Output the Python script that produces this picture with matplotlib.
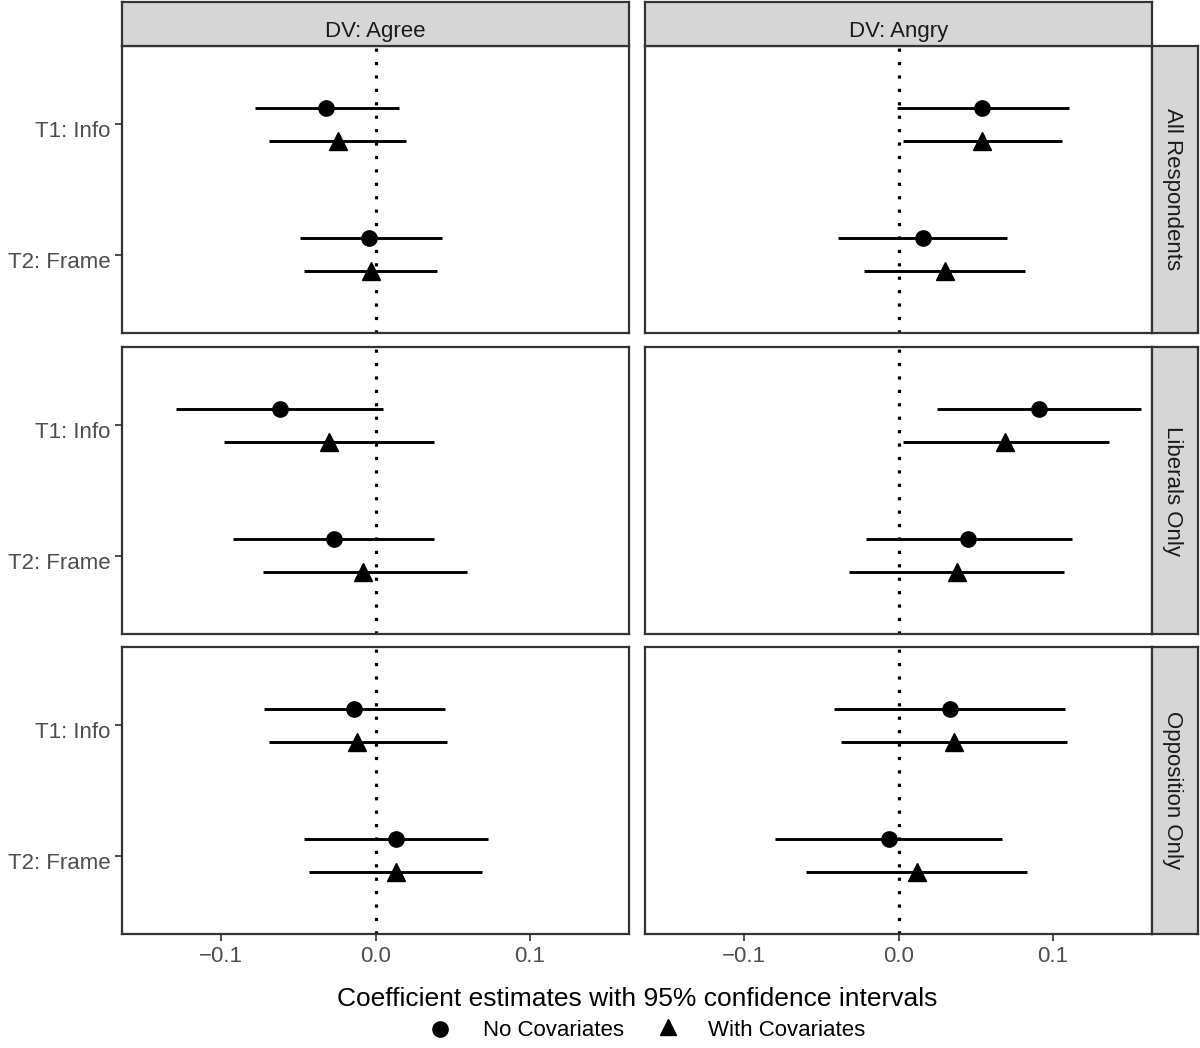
import numpy as np
import matplotlib
matplotlib.use('Agg')
import matplotlib.pyplot as plt
import matplotlib.transforms as mtrans

plt.rcParams['font.family'] = ['Liberation Sans', 'DejaVu Sans']

# DATA
dvs = ["DV: Agree", "DV: Angry"]
groups = ["All Respondents", "Liberals Only", "Opposition Only"]
treatments = ["T1: Info", "T2: Frame"]
models = ["No Covariates", "With Covariates"]

# estimates [group][dv][treatment]
est_nocov = [[[-0.032, -0.004], [0.054, 0.016]],
             [[-0.062, -0.027], [0.091, 0.045]],
             [[-0.014, 0.013], [0.033, -0.006]]]
lo_nocov = [[[-0.078, -0.049], [-0.001, -0.039]],
            [[-0.129, -0.092], [0.025, -0.021]],
            [[-0.072, -0.046], [-0.042, -0.080]]]
hi_nocov = [[[0.015, 0.043], [0.110, 0.070]],
            [[0.005, 0.038], [0.157, 0.112]],
            [[0.045, 0.073], [0.108, 0.067]]]

est_cov = [[[-0.024, -0.003], [0.054, 0.030]],
           [[-0.030, -0.008], [0.069, 0.038]],
           [[-0.012, 0.013], [0.036, 0.012]]]
lo_cov = [[[-0.069, -0.046], [0.003, -0.022]],
          [[-0.098, -0.073], [0.003, -0.032]],
          [[-0.069, -0.043], [-0.037, -0.060]]]
hi_cov = [[[0.020, 0.040], [0.106, 0.082]],
          [[0.038, 0.059], [0.136, 0.107]],
          [[0.046, 0.069], [0.109, 0.083]]]

xticks = [-0.1, 0.0, 0.1]
xticklabels = ["\u22120.1", "0.0", "0.1"]

# FIGURE
W, H = 1200, 1048
fig = plt.figure(figsize=(12, 10.48), dpi=100)

border = '#333333'
tickcol = '#4D4D4D'
stripcol = '#D6D6D6'
fs = 16

panel_x = [122, 645]
panel_w = 507
panel_top = [46, 347, 647]
panel_h = 287

def fbox(x0, y0, w, h):
    # pixel box (top-left origin) -> figure fraction
    return [x0 / W, 1 - (y0 + h) / H, w / W, h / H]

ypos = np.array([1, 2])
dodge = 0.125
shift_down = mtrans.ScaledTranslation(0, -5 / 100, fig.dpi_scale_trans)

for g in range(3):
    for d in range(2):
        ax = fig.add_axes(fbox(panel_x[d], panel_top[g], panel_w, panel_h))
        ax.axvline(0, color='black', linestyle=(0, (1, 3.2)), linewidth=2.3, zorder=1)

        # no covariates (circles)
        ax.hlines(ypos - dodge, lo_nocov[g][d], hi_nocov[g][d], color='black', linewidth=2.1, zorder=2)
        ax.plot(est_nocov[g][d], ypos - dodge, 'o', color='black', markersize=11, zorder=3)
        # with covariates (triangles)
        ax.hlines(ypos + dodge, lo_cov[g][d], hi_cov[g][d], color='black', linewidth=2.1, zorder=2)
        ax.plot(est_cov[g][d], ypos + dodge, '^', color='black', markersize=12.5, zorder=3)

        ax.set_xlim(-0.164, 0.164)
        ax.set_ylim(2.6, 0.4)
        ax.set_xticks(xticks)
        ax.set_yticks(ypos)
        for s in ax.spines.values():
            s.set_color(border)
            s.set_linewidth(1.6)
        ax.tick_params(color=tickcol, length=5, width=1.4, labelcolor=tickcol, labelsize=fs)
        if d == 0:
            ax.set_yticklabels(treatments)
            for lab in ax.get_yticklabels():
                lab.set_transform(lab.get_transform() + shift_down)
        else:
            ax.tick_params(axis='y', left=False, labelleft=False)
        if g == 2:
            ax.set_xticklabels(xticklabels)
        else:
            ax.tick_params(axis='x', bottom=False, labelbottom=False)

        # right strips
        if d == 1:
            sax = fig.add_axes(fbox(1152, panel_top[g], 46, panel_h))
            sax.set_facecolor(stripcol)
            sax.set_xticks([])
            sax.set_yticks([])
            for s in sax.spines.values():
                s.set_color(border)
                s.set_linewidth(1.6)
            sax.text(0.44, 0.5, groups[g], rotation=270, ha='center', va='center',
                     fontsize=fs, color='#1A1A1A', transform=sax.transAxes)

# top strips
for d in range(2):
    sax = fig.add_axes(fbox(panel_x[d], 2, panel_w, 44))
    sax.set_facecolor(stripcol)
    sax.set_xticks([])
    sax.set_yticks([])
    for s in sax.spines.values():
        s.set_color(border)
        s.set_linewidth(1.6)
    sax.text(0.5, 0.34, dvs[d], ha='center', va='center', fontsize=fs,
             color='#1A1A1A', transform=sax.transAxes)

# AXIS TITLE
fig.text(637 / W, 1 - 999 / H, "Coefficient estimates with 95% confidence intervals",
         ha='center', va='center', fontsize=19, color='black')

# LEGEND
fig.lines.append(matplotlib.lines.Line2D([440 / W], [1 - 1029 / H], marker='o', color='black',
                                         markersize=11, linestyle='none', transform=fig.transFigure))
fig.text(483 / W, 1 - 1031 / H, models[0], ha='left', va='center', fontsize=fs)
fig.lines.append(matplotlib.lines.Line2D([668 / W], [1 - 1027 / H], marker='^', color='black',
                                         markersize=12, linestyle='none', transform=fig.transFigure))
fig.text(708 / W, 1 - 1031 / H, models[1], ha='left', va='center', fontsize=fs)

fig.savefig('out.png', dpi=100, facecolor='white')
